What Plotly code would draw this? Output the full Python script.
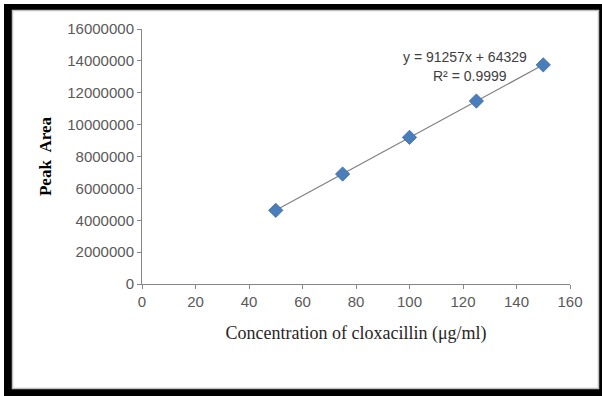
import plotly.graph_objects as go

# ---- data ----
concentration = [50, 75, 100, 125, 150]
peak_area = [4620000, 6900000, 9200000, 11480000, 13750000]
slope = 91257
intercept = 64329
equation_text = "y = 91257x + 64329"
r2_text = "R² = 0.9999"
x_ticks = [0, 20, 40, 60, 80, 100, 120, 140, 160]
y_ticks = [0, 2000000, 4000000, 6000000, 8000000, 10000000, 12000000, 14000000, 16000000]

W, H = 602, 396
L, R, T, B = 142, 570, 29, 284  # plot area in pixels


def px(x):
    return (x - L) / (R - L)


def py(y):
    return (B - y) / (B - T)


trend_x = [concentration[0], concentration[-1]]
trend_y = [slope * v + intercept for v in trend_x]

fig = go.Figure()
fig.add_trace(go.Scatter(x=trend_x, y=trend_y, mode="lines",
                         line=dict(color="#7f7f7f", width=1.2),
                         hoverinfo="skip", showlegend=False))
fig.add_trace(go.Scatter(x=concentration, y=peak_area, mode="markers",
                         marker=dict(symbol="diamond", size=11, color="#4a7ebb",
                                     line=dict(color="#3c6aa3", width=0.8)),
                         showlegend=False))

shapes = [
    dict(type="rect", xref="paper", yref="paper", layer="below",
         x0=px(4), x1=px(610), y0=py(4), y1=py(404),
         fillcolor="black", line=dict(width=0)),
    dict(type="rect", xref="paper", yref="paper", layer="below",
         x0=px(12.5), x1=px(598.5), y0=py(10.5), y1=py(388.5),
         fillcolor="white", line=dict(color="#c0c0c0", width=1.5)),
]

fig.update_layout(
    width=W, height=H,
    margin=dict(l=L, r=W - R, t=T, b=H - B, autoexpand=False),
    paper_bgcolor="white",
    plot_bgcolor="rgba(0,0,0,0)",
    shapes=shapes,
    xaxis=dict(range=[0, 160], tickvals=x_ticks, ticks="outside", ticklen=4,
               tickcolor="#868686", showline=True, linecolor="#868686", linewidth=1,
               showgrid=False, zeroline=False,
               tickfont=dict(family="Liberation Sans, Arial", size=15, color="#595959"),
               title=dict(text="Concentration of cloxacillin (μg/ml)", standoff=17,
                          font=dict(family="Liberation Serif, Times New Roman", size=18,
                                    color="#262626"))),
    yaxis=dict(range=[0, 16000000], tickvals=y_ticks, tickformat="d", ticks="outside",
               ticklen=4, tickcolor="#868686", showline=True, linecolor="#868686",
               linewidth=1, showgrid=False, zeroline=False,
               tickfont=dict(family="Liberation Sans, Arial", size=15, color="#595959"),
               title=dict(text="<b>Peak  Area</b>", standoff=11,
                          font=dict(family="Liberation Serif, Times New Roman", size=17,
                                    color="#000000"))),
    annotations=[
        dict(text=equation_text, xref="paper", yref="paper", x=px(465), y=py(57),
             showarrow=False, xanchor="center", yanchor="middle",
             font=dict(family="Liberation Sans, Arial", size=14, color="#404040")),
        dict(text=r2_text, xref="paper", yref="paper", x=px(470), y=py(76),
             showarrow=False, xanchor="center", yanchor="middle",
             font=dict(family="Liberation Sans, Arial", size=14, color="#404040")),
    ],
)

fig.write_html("out.html", config={"displayModeBar": False},
               post_script="document.body.style.margin='0';document.body.style.overflow='hidden';")
